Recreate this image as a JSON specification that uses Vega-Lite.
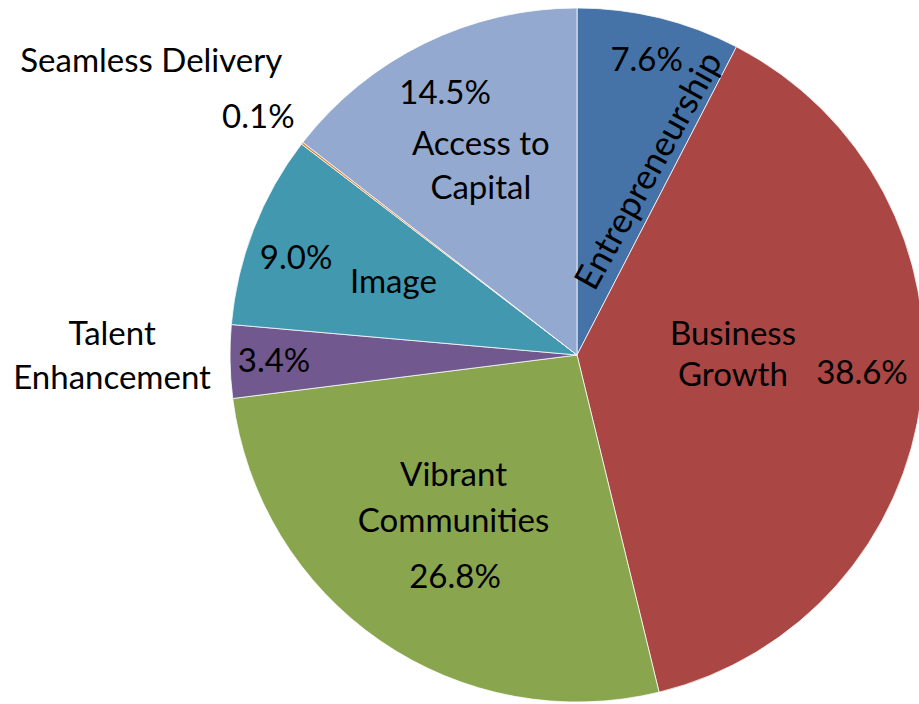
{
  "$schema": "https://vega.github.io/schema/vega-lite/v6.json",
  "width": 682,
  "height": 698,
  "autosize": {"type": "none"},
  "padding": {"left": 236, "top": 6, "right": 1, "bottom": 0},
  "background": "white",
  "config": {
    "view": {"stroke": null},
    "text": {"font": "Lato", "fontSize": 33, "color": "black", "align": "center", "baseline": "middle", "lineBreak": "\n", "lineHeight": 44}
  },
  "data": {
    "values": [
      {"idx": 1, "category": "Entrepreneurship", "value": 7.6, "pct": "7.6%", "name": "Entrepreneurship"},
      {"idx": 2, "category": "Business Growth", "value": 38.6, "pct": "38.6%", "name": "Business\nGrowth"},
      {"idx": 3, "category": "Vibrant Communities", "value": 26.8, "pct": "26.8%", "name": "Vibrant\nCommunities"},
      {"idx": 4, "category": "Talent Enhancement", "value": 3.4, "pct": "3.4%", "name": "Talent\nEnhancement"},
      {"idx": 5, "category": "Image", "value": 9.0, "pct": "9.0%", "name": "Image"},
      {"idx": 6, "category": "Seamless Delivery", "value": 0.1, "pct": "0.1%", "name": "Seamless Delivery"},
      {"idx": 7, "category": "Access to Capital", "value": 14.5, "pct": "14.5%", "name": "Access to\nCapital"}
    ]
  },
  "encoding": {
    "theta": {"field": "value", "type": "quantitative", "stack": true},
    "order": {"field": "idx", "type": "quantitative"}
  },
  "layer": [
    {
      "mark": {"type": "arc", "outerRadius": 347, "stroke": "white", "strokeWidth": 0.75},
      "encoding": {
        "color": {
          "field": "category", "type": "nominal", "legend": null,
          "scale": {
            "domain": ["Entrepreneurship", "Business Growth", "Vibrant Communities", "Talent Enhancement", "Image", "Seamless Delivery", "Access to Capital"],
            "range": ["#4572A7", "#AA4643", "#89A54E", "#71588F", "#4198AF", "#DB843D", "#93A9CF"]
          }
        }
      }
    },
    {"mark": {"type": "text", "radius": 303, "dx": -2, "dy": 0},
     "encoding": {"text": {"field": "pct", "type": "nominal", "condition": {"test": "datum.category !== 'Entrepreneurship'", "value": ""}}}},
    {"mark": {"type": "text", "radius": 197, "dx": 6, "dy": 26, "angle": 299, "fontSize": 35},
     "encoding": {"text": {"field": "name", "type": "nominal", "condition": {"test": "datum.category !== 'Entrepreneurship'", "value": ""}}}},
    {"mark": {"type": "text", "radius": 152, "dx": 5, "dy": -38, "lineHeight": 41},
     "encoding": {"text": {"field": "name", "type": "nominal", "condition": {"test": "datum.category !== 'Business Growth'", "value": ""}}}},
    {"mark": {"type": "text", "radius": 285, "dx": 2, "dy": -15},
     "encoding": {"text": {"field": "pct", "type": "nominal", "condition": {"test": "datum.category !== 'Business Growth'", "value": ""}}}},
    {"mark": {"type": "text", "radius": 170, "dx": -27, "dy": -19, "lineHeight": 46},
     "encoding": {"text": {"field": "name", "type": "nominal", "condition": {"test": "datum.category !== 'Vibrant Communities'", "value": ""}}}},
    {"mark": {"type": "text", "radius": 252, "dx": 21, "dy": 15},
     "encoding": {"text": {"field": "pct", "type": "nominal", "condition": {"test": "datum.category !== 'Vibrant Communities'", "value": ""}}}},
    {"mark": {"type": "text", "radius": 464, "dx": -1, "dy": -29},
     "encoding": {"text": {"field": "name", "type": "nominal", "condition": {"test": "datum.category !== 'Talent Enhancement'", "value": ""}}}},
    {"mark": {"type": "text", "radius": 303, "dx": 0, "dy": 1},
     "encoding": {"text": {"field": "pct", "type": "nominal", "condition": {"test": "datum.category !== 'Talent Enhancement'", "value": ""}}}},
    {"mark": {"type": "text", "radius": 296, "dx": -5, "dy": 11},
     "encoding": {"text": {"field": "pct", "type": "nominal", "condition": {"test": "datum.category !== 'Image'", "value": ""}}}},
    {"mark": {"type": "text", "radius": 197, "dx": 0, "dy": -1},
     "encoding": {"text": {"field": "name", "type": "nominal", "condition": {"test": "datum.category !== 'Image'", "value": ""}}}},
    {"mark": {"type": "text", "radius": 516, "dx": -17, "dy": 22},
     "encoding": {"text": {"field": "name", "type": "nominal", "condition": {"test": "datum.category !== 'Seamless Delivery'", "value": ""}}}},
    {"mark": {"type": "text", "radius": 396, "dx": -5, "dy": 5},
     "encoding": {"text": {"field": "pct", "type": "nominal", "condition": {"test": "datum.category !== 'Seamless Delivery'", "value": ""}}}},
    {"mark": {"type": "text", "radius": 293, "dx": -3, "dy": 2},
     "encoding": {"text": {"field": "pct", "type": "nominal", "condition": {"test": "datum.category !== 'Access to Capital'", "value": ""}}}},
    {"mark": {"type": "text", "radius": 230, "dx": 5, "dy": -3},
     "encoding": {"text": {"field": "name", "type": "nominal", "condition": {"test": "datum.category !== 'Access to Capital'", "value": ""}}}}
  ]
}
